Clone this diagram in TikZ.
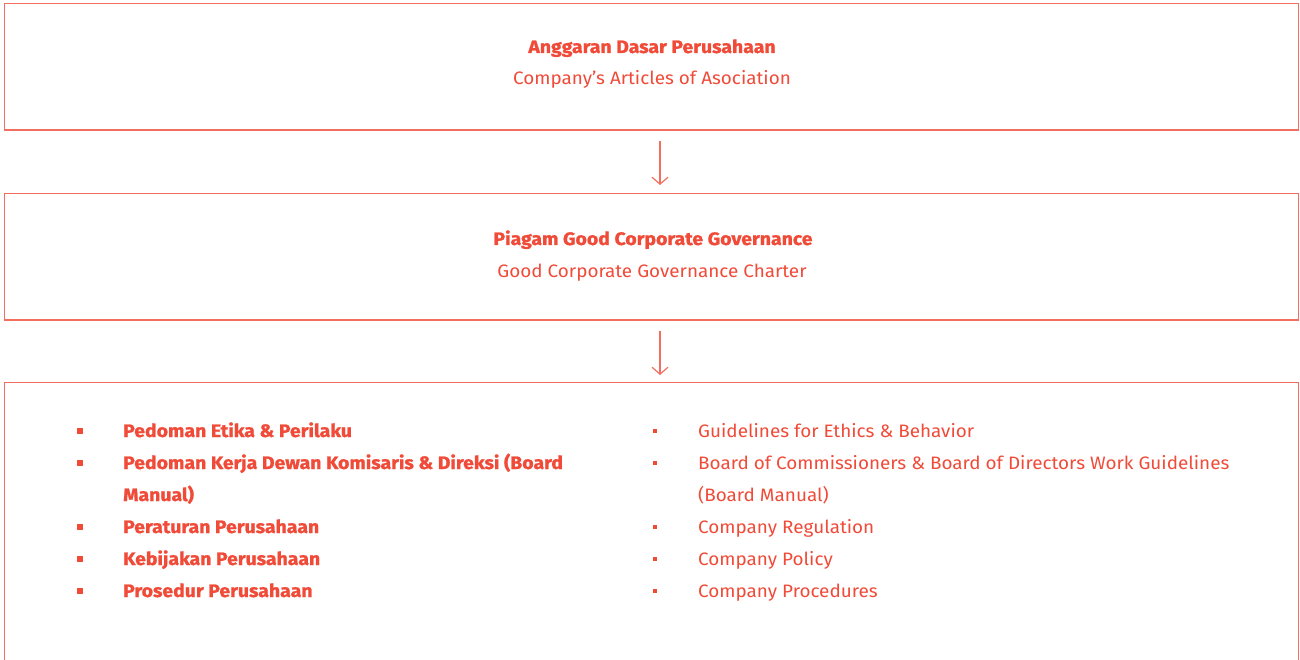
\documentclass[tikz,border=0pt]{standalone}
\usepackage{fontspec}
\setmainfont{Fira Sans}[FakeStretch=1.05, BoldFeatures={FakeStretch=1.08, FakeBold=1.2}]
\usetikzlibrary{arrows.meta}
\definecolor{txt}{RGB}{240,74,56}
\definecolor{line}{RGB}{244,110,95}
\tikzset{
  box/.style={draw=line, line width=1.2pt},
  title/.style={text=txt, font=\fontsize{18}{20}\selectfont\bfseries, inner sep=0pt, anchor=base},
  sub/.style={text=txt, font=\fontsize{18}{20}\selectfont, inner sep=0pt, anchor=base},
  ltxt/.style={text=txt, font=\fontsize{18}{20}\selectfont\bfseries, inner sep=0pt, anchor=base west},
  rtxt/.style={text=txt, font=\fontsize{18}{20}\selectfont, inner sep=0pt, anchor=base west},
  lbul/.style={fill=txt, minimum size=5.5pt, inner sep=0pt},
  rbul/.style={fill=txt, minimum size=4pt, inner sep=0pt},
  conn/.style={draw=line, line width=1.2pt, -{Straight Barb[length=7pt,width=16pt,line width=1.2pt]}},
}
\begin{document}
\begin{tikzpicture}[x=1pt,y=-1pt]
\useasboundingbox (0,0) rectangle (1300,660);
\draw[box] (4.5,3.5) rectangle (1298.5,130);
\draw[box] (4.5,193.5) rectangle (1298.5,320);
\draw[box] (4.5,382.5) rectangle (1298.5,720);
\coordinate (a1s) at (660,141);
\coordinate (a1e) at (660,185);
\coordinate (a2s) at (660,331);
\coordinate (a2e) at (660,375);
\draw[conn] (a1s) -- (a1e);
\draw[conn] (a2s) -- (a2e);
\node[title] (t1) at (652,53) {Anggaran Dasar Perusahaan};
\node[sub] (s1) at (652,85) {Company’s Articles of Asociation};
\node[title] (t2) at (653,245) {Piagam Good Corporate Governance};
\node[sub] (s2) at (652,277) {Good Corporate Governance Charter};
% left list
\node[lbul] (lb1) at (80,431) {};
\node[lbul] (lb2) at (80,463) {};
\node[lbul] (lb3) at (80,527) {};
\node[lbul] (lb4) at (80,559) {};
\node[lbul] (lb5) at (80,591) {};
\node[ltxt] (l1) at (123,437) {Pedoman Etika \& Perilaku};
\node[ltxt] (l2) at (123,469) {Pedoman Kerja Dewan Komisaris \& Direksi (Board};
\node[ltxt] (l2b) at (123,501) {Manual)};
\node[ltxt] (l3) at (123,533) {Peraturan Perusahaan};
\node[ltxt] (l4) at (123,565) {Kebijakan Perusahaan};
\node[ltxt] (l5) at (123,597) {Prosedur Perusahaan};
% right list
\node[rbul] (rb1) at (655,431) {};
\node[rbul] (rb2) at (655,463) {};
\node[rbul] (rb3) at (655,527) {};
\node[rbul] (rb4) at (655,559) {};
\node[rbul] (rb5) at (655,591) {};
\node[rtxt] (r1) at (698,437) {Guidelines for Ethics \& Behavior};
\node[rtxt] (r2) at (698,469) {Board of Commissioners \& Board of Directors Work Guidelines};
\node[rtxt] (r2b) at (698,501) {(Board Manual)};
\node[rtxt] (r3) at (698,533) {Company Regulation};
\node[rtxt] (r4) at (698,565) {Company Policy};
\node[rtxt] (r5) at (698,597) {Company Procedures};
\end{tikzpicture}
\end{document}
